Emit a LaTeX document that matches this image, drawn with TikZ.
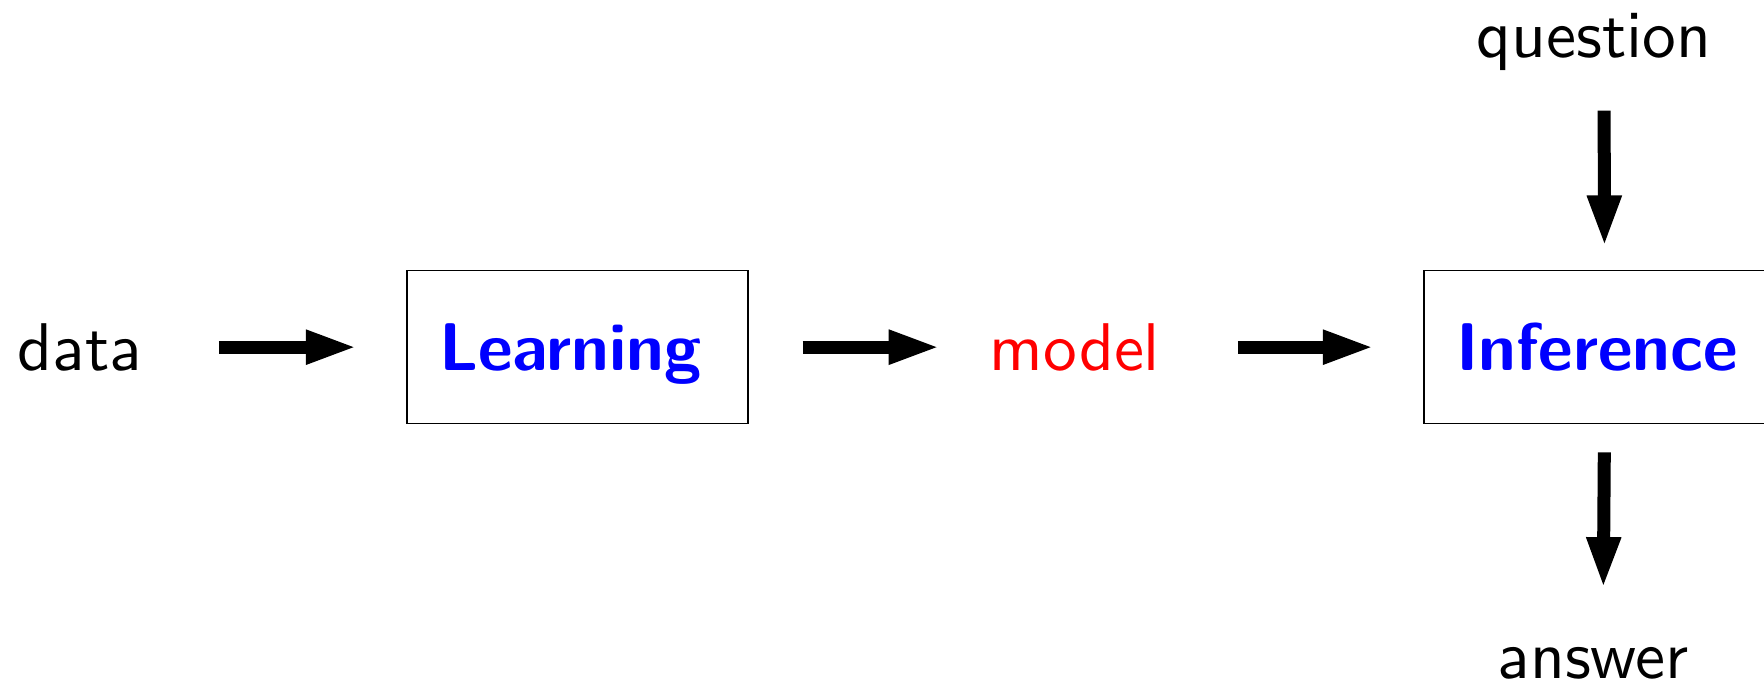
\documentclass[tikz,border=0pt]{standalone}
\usepackage{fontspec}
\setsansfont{lmsans10-regular.otf}[BoldFont=lmsans10-bold.otf]
\usetikzlibrary{arrows.meta,positioning}

\begin{document}
\begin{tikzpicture}[
    word/.style={
        font=\sffamily\fontsize{19.2}{23}\selectfont,
        inner sep=0pt,
        text height=13pt,
        text depth=0pt
    },
    stage/.style={
        word,
        draw,
        line width=0.4pt,
        inner xsep=3.2mm,
        text width=2.77cm,
        align=left,
        minimum height=1.53cm,
        text=blue,
        font=\sffamily\bfseries\fontsize{19.2}{23}\selectfont
    },
    flow/.style={-{Triangle[length=5.2mm, width=3.1mm]}, line width=1.3mm,
        shorten <=5.4mm, shorten >=4.85mm}
]
\useasboundingbox (0,0) rectangle (17.64,6.89);

\node[word, anchor=base] (data) at (0.80, 3.19) {data};
\node[stage, anchor=base] (learn) at (5.775, 3.19) {Learning};
\node[word, anchor=base, text=red] (model) at (10.75, 3.19) {model};
\node[stage, anchor=base] (infer) at (15.945, 3.19) {Inference};
\node[word, anchor=base] (question) at (15.94, 6.32) {question};
\node[word, anchor=base] (answer) at (15.93, 0.11) {answer};

\draw[flow, shorten <=7.6mm] (data) -- (learn);
\draw[flow] (learn) -- (model);
\draw[flow, shorten <=7.7mm] (model) -- (infer);
\draw[flow, shorten <=5.3mm, shorten >=2.25mm]
    ([xshift=1mm]question.south) -- ([xshift=1mm]infer.north);
\draw[flow, shorten <=2.8mm, shorten >=4.25mm]
    ([xshift=1mm]infer.south) -- ([xshift=1mm]answer.north);

\end{tikzpicture}
\end{document}
